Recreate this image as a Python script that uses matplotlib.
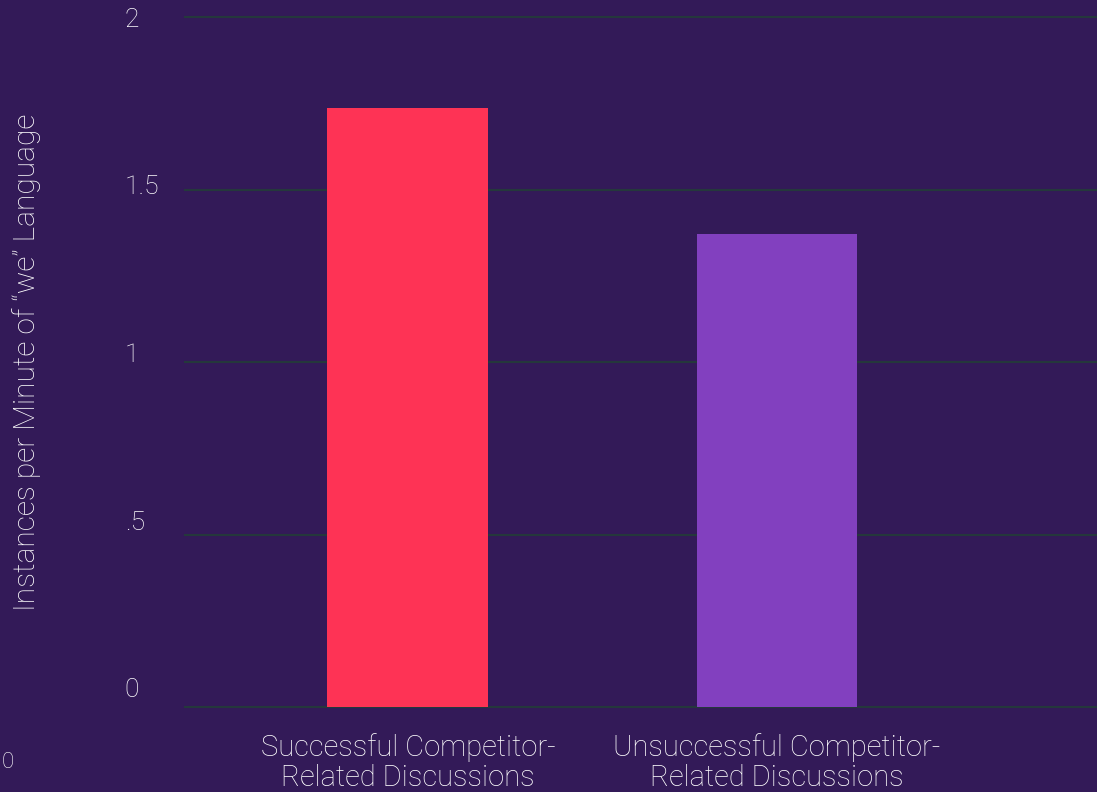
import matplotlib.pyplot as plt
import matplotlib.transforms as mtransforms
import numpy as np

# dados
categorias = ['Successful Competitor-\nRelated Discussions',
              'Unsuccessful Competitor-\nRelated Discussions']
valores = [1.735, 1.372]
cores = ['#fe3355', '#8240bf']
yticks = [0, 0.5, 1, 1.5, 2]
ytick_labels = ['0', '.5', '1', '1.5', '2']

fundo = '#331a58'
texto = '#ffffff'

plt.rcParams['font.family'] = ['Roboto', 'DejaVu Sans']
plt.rcParams['font.weight'] = 'light'
plt.rcParams['axes.labelweight'] = 'light'

fig = plt.figure(figsize=(10.97, 7.92), dpi=100, facecolor=fundo)
ax = fig.add_axes([185 / 1097, 1 - 707 / 792, 1 - 185 / 1097, 690 / 792])
ax.set_facecolor(fundo)

x = np.arange(len(categorias))
ax.bar(x, valores, width=0.436, color=cores, zorder=3)

ax.set_ylim(0, 2)
ax.set_xlim(-0.604, 1.867)
ax.set_yticks(yticks)
ax.set_yticklabels([])
ax.set_xticks(x)
ax.set_xticklabels(categorias, fontsize=21, color=texto, linespacing=1.08)
ax.tick_params(axis='y', length=0)
ax.tick_params(axis='x', length=0, pad=19)

# rotulos do eixo y levemente deslocados para cima, como no original
trans = ax.get_yaxis_transform()
for v, t in zip(yticks, ytick_labels):
    off = mtransforms.offset_copy(trans, fig=fig, x=0, y=(17 - 10 * v) * 0.72,
                                  units='points')
    ax.text(-0.066, v, t, transform=off, fontsize=19, color=texto,
            ha='left', va='center')

ax.grid(axis='y', color='#25383c', linewidth=1.5, zorder=0)
ax.grid(axis='x', visible=False)
for gl in ax.yaxis.get_gridlines():
    gl.set_clip_on(False)
for s in ax.spines.values():
    s.set_visible(False)

ax.set_ylabel('Instances per Minute of \u201cwe\u201d Language', fontsize=21.5,
              color=texto)
ax.yaxis.set_label_coords(-0.158, 0.5)

fig.text(2 / 1097, 1 - 763 / 792, '0', fontsize=16, color=texto,
         ha='left', va='center')

fig.savefig('out.png', dpi=100, facecolor=fundo)
